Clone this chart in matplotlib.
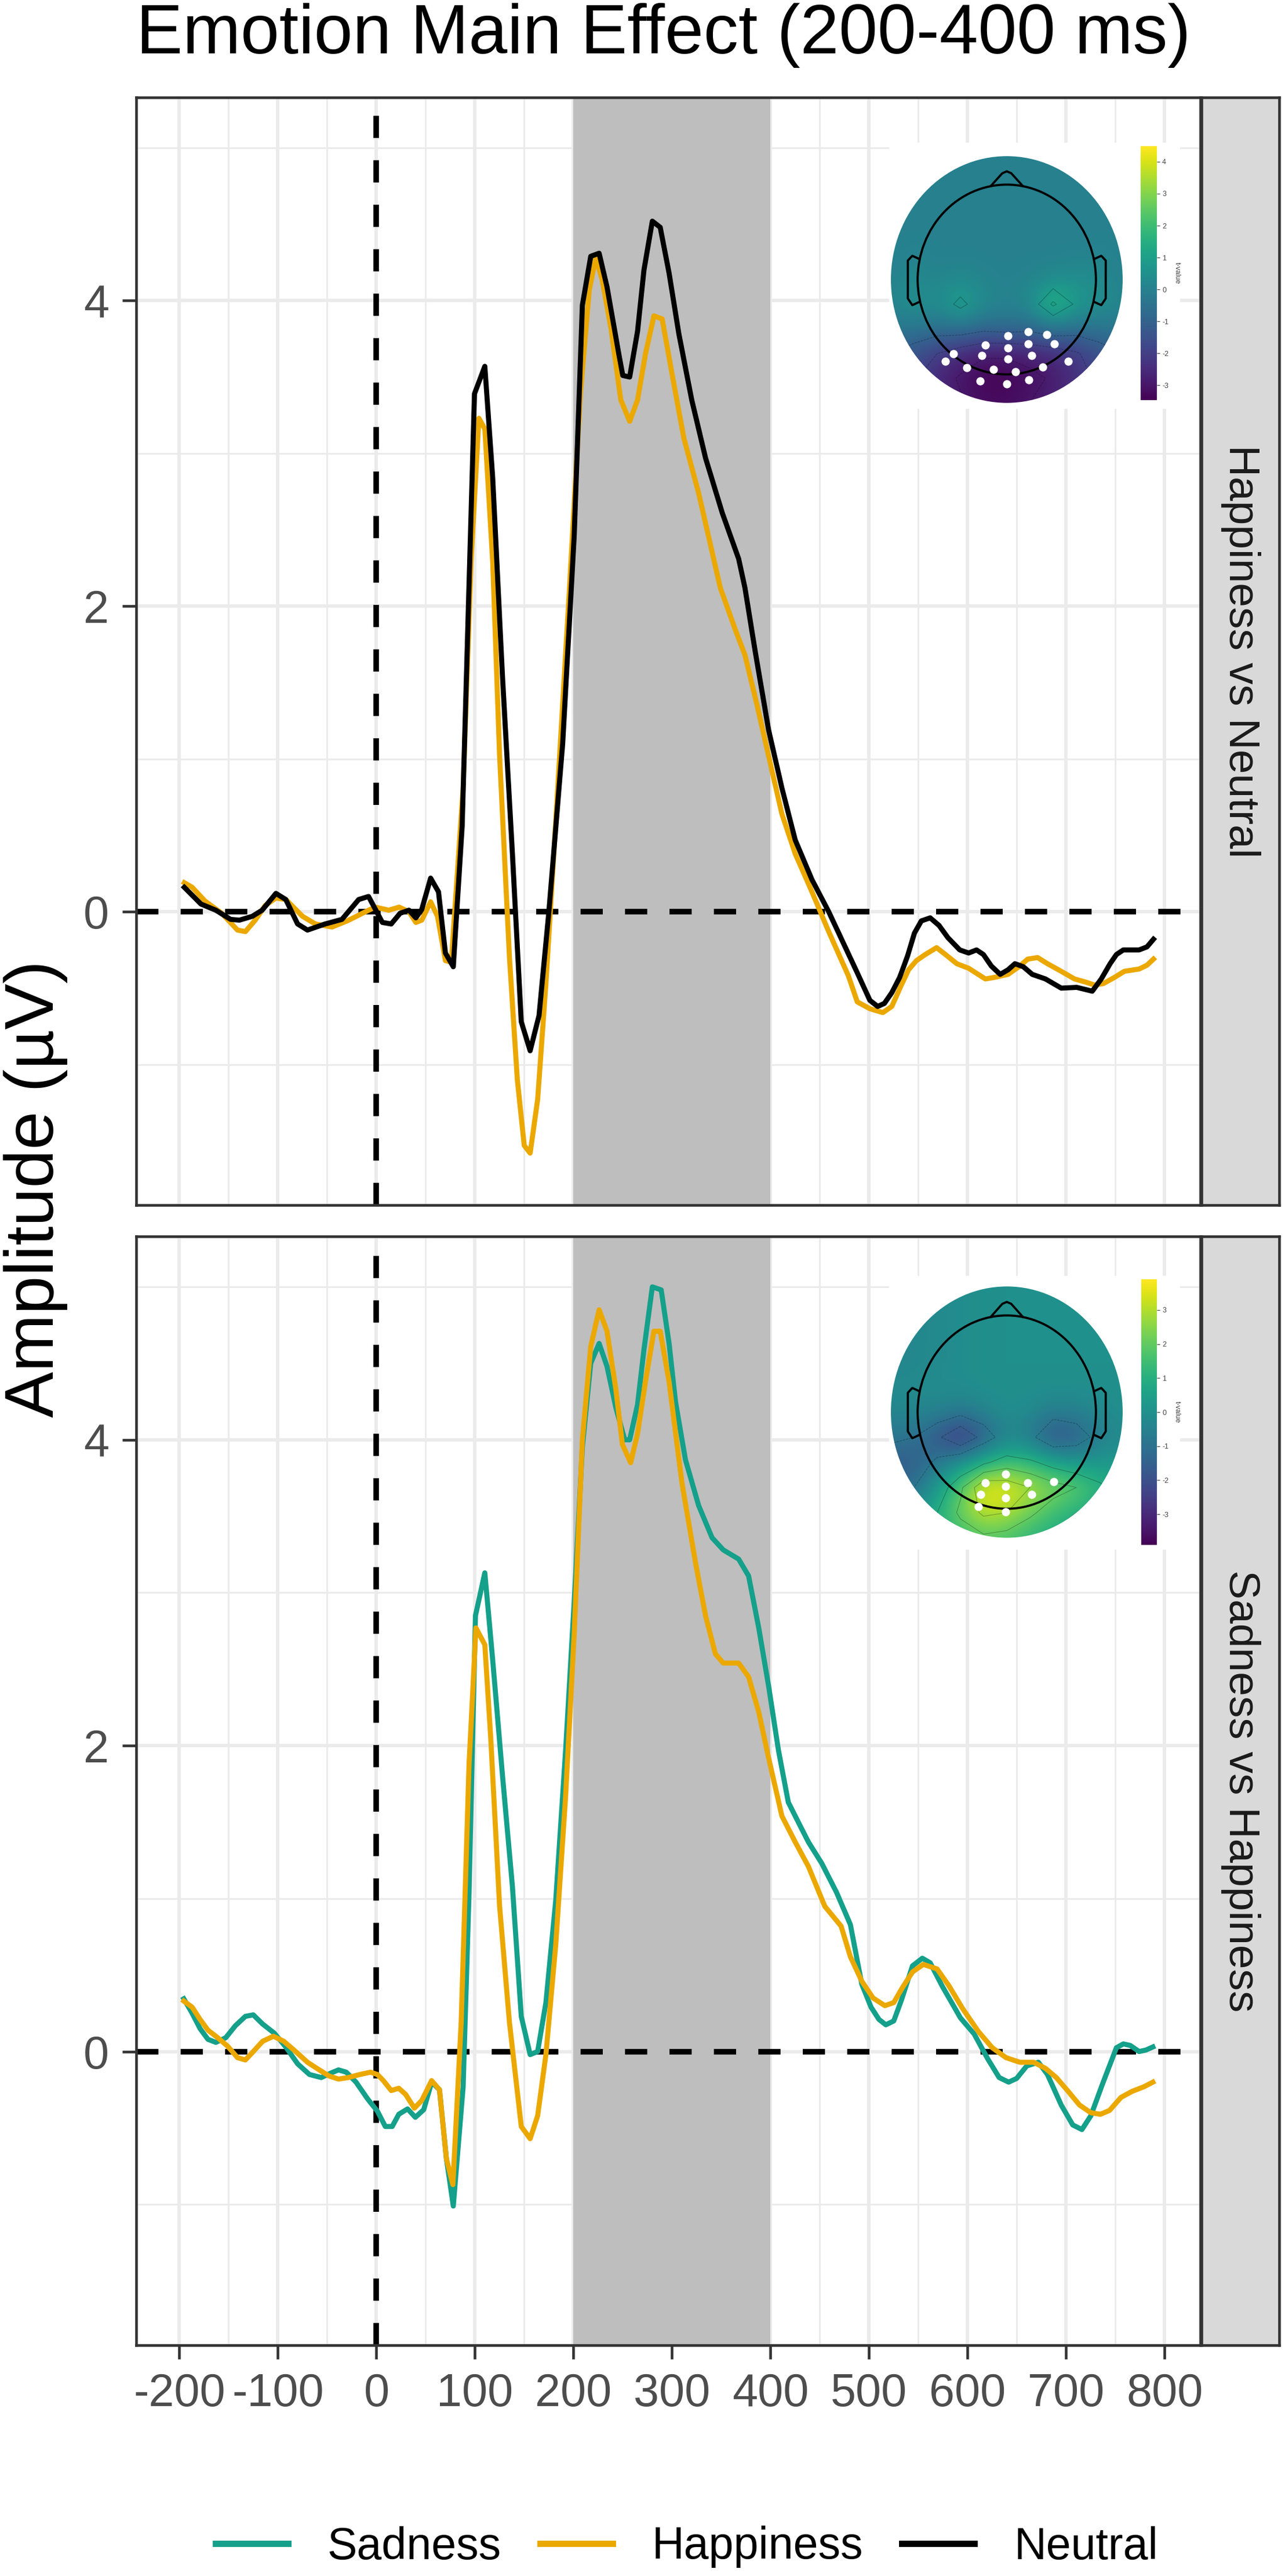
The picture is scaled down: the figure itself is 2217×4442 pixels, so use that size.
import numpy as np
import matplotlib
matplotlib.use('Agg')
import matplotlib.pyplot as plt
from matplotlib.lines import Line2D
from matplotlib.patches import Circle
from matplotlib.colors import Normalize
import matplotlib.cm as cm

plt.rcParams['font.family'] = ['Liberation Sans', 'DejaVu Sans']
plt.rcParams['axes.unicode_minus'] = False

W, H = 2217, 4442

# ---------------- data ----------------
title = "Emotion Main Effect (200-400 ms)"
ylabel = "Amplitude (\u00b5V)"
panel_names = ["Happiness vs Neutral", "Sadness vs Happiness"]
legend_names = ["Sadness", "Happiness", "Neutral"]
colors = {"Sadness": "#14A08A", "Happiness": "#EBA800", "Neutral": "#000000"}
xticks = [-200, -100, 0, 100, 200, 300, 400, 500, 600, 700, 800]
yticks = [0, 2, 4]
window = (200, 400)

# panel 1: Happiness vs Neutral
p1_neu_t = [-195, -178, -163, -148, -139, -126, -116, -102, -92, -80, -70, -52, -35, -18, -8, 6, 15, 24, 33, 40,
            46, 55, 63, 70, 78, 87, 99.5, 110, 118, 128, 138, 147, 156, 165, 175, 189, 200.7, 209, 217.5, 226,
            234, 246, 250, 257, 265, 271.5, 280, 288, 297, 307, 320, 334, 351, 367.6, 374, 384.5, 398, 411.5,
            425, 442, 459, 488, 500.8, 508.7, 515.5, 523, 531, 539, 546, 553, 562, 571, 580, 592, 601, 609, 616,
            624, 633, 641, 648, 656.5, 665.6, 679, 695, 710.7, 726.5, 735.6, 744.6, 751, 758, 774, 782, 788.6]
p1_neu_v = [0.16, 0.05, 0.01, -0.05, -0.055, -0.03, 0.01, 0.12, 0.08, -0.08, -0.12, -0.08, -0.05, 0.08, 0.10,
            -0.07, -0.08, -0.01, 0.01, -0.04, 0.015, 0.22, 0.13, -0.27, -0.36, 0.56, 3.39, 3.57, 2.84, 1.53, 0.38,
            -0.72, -0.91, -0.68, 0.0, 1.10, 2.46, 3.97, 4.29, 4.31, 4.09, 3.65, 3.51, 3.50, 3.80, 4.20, 4.52, 4.48,
            4.18, 3.78, 3.35, 2.97, 2.61, 2.31, 2.12, 1.70, 1.19, 0.81, 0.47, 0.21, 0.0, -0.40, -0.58, -0.62,
            -0.60, -0.53, -0.43, -0.29, -0.14, -0.06, -0.04, -0.09, -0.17, -0.25, -0.27, -0.25, -0.28, -0.355,
            -0.41, -0.38, -0.34, -0.36, -0.41, -0.44, -0.50, -0.495, -0.52, -0.44, -0.34, -0.28, -0.25, -0.25,
            -0.23, -0.18]
p1_hap_t = [-195, -187, -174, -157, -141, -133, -123, -113, -102, -92, -75, -62, -45, -28, -8, -1, 12.5, 23, 33,
            40, 46, 55, 62, 70, 76, 88, 96, 104, 110, 118, 125, 135, 143, 150, 156, 163.6, 172, 182, 195.6, 207,
            216, 222.6, 229, 238, 248, 257, 265, 273, 281.6, 290, 300, 312, 327, 349, 364, 374, 386, 398, 411.5,
            425, 442, 459, 479, 488, 500.8, 514, 523, 532, 540, 548, 557, 568.5, 577.5, 589, 601, 618, 627, 641,
            652, 661, 671, 681, 695, 708.5, 719.6, 728.8, 737.8, 749, 759, 774, 782, 788.6]
p1_hap_v = [0.19, 0.16, 0.07, -0.01, -0.12, -0.13, -0.055, 0.04, 0.09, 0.08, -0.03, -0.08, -0.10, -0.055, 0.01,
            0.03, 0.01, 0.03, 0.0, -0.07, -0.055, 0.065, -0.03, -0.32, -0.33, 0.81, 2.29, 3.23, 3.16, 2.29, 1.02,
            -0.30, -1.10, -1.53, -1.58, -1.23, -0.47, 0.59, 2.08, 3.39, 4.07, 4.28, 4.14, 3.82, 3.35, 3.21, 3.35,
            3.65, 3.90, 3.88, 3.52, 3.10, 2.74, 2.12, 1.85, 1.68, 1.36, 1.02, 0.64, 0.38, 0.13, -0.13, -0.42,
            -0.59, -0.635, -0.66, -0.62, -0.49, -0.38, -0.32, -0.28, -0.235, -0.28, -0.34, -0.37, -0.44, -0.43,
            -0.41, -0.36, -0.31, -0.30, -0.34, -0.39, -0.44, -0.46, -0.48, -0.47, -0.43, -0.39, -0.375, -0.35,
            -0.31]

# panel 2: Sadness vs Happiness
p2_sad_t = [-195.5, -187, -179, -171, -163, -153, -143, -133, -125, -115.5, -103.6, -92, -80, -68, -56, -46,
            -38.5, -30.6, -20.7, -8.9, 1, 9, 16, 22.7, 31.6, 39.5, 48, 56, 64, 71, 78, 88, 94, 100.5, 110, 118,
            128, 138, 147, 156, 163.6, 172, 182, 192, 200.7, 209, 217.5, 226, 234, 243, 252, 257, 265, 271.5,
            280, 289, 297, 303.5, 313.6, 327, 340.6, 352, 367.6, 377.7, 388, 398, 408, 418, 425, 438.4, 452,
            467, 481, 492.6, 502, 510, 517, 525, 533, 544, 554, 562, 574, 592.7, 606.6, 620.6, 632, 641.6,
            649.7, 660, 671.8, 681, 695, 706.7, 716, 725, 737, 751, 758, 765, 774, 781, 788]
p2_sad_v = [0.345, 0.25, 0.15, 0.08, 0.06, 0.09, 0.17, 0.23, 0.24, 0.18, 0.12, 0.03, -0.08, -0.15, -0.17, -0.14,
            -0.12, -0.135, -0.20, -0.31, -0.39, -0.49, -0.49, -0.41, -0.375, -0.43, -0.38, -0.20, -0.25, -0.70,
            -1.01, -0.23, 1.04, 2.85, 3.13, 2.56, 1.80, 1.08, 0.23, -0.02, 0.0, 0.32, 0.99, 1.97, 2.94, 3.95,
            4.50, 4.63, 4.48, 4.21, 4.00, 4.00, 4.23, 4.59, 5.00, 4.98, 4.63, 4.25, 3.87, 3.57, 3.36, 3.28, 3.22,
            3.11, 2.77, 2.39, 1.97, 1.63, 1.54, 1.37, 1.23, 1.04, 0.83, 0.44, 0.29, 0.21, 0.175, 0.20, 0.34,
            0.56, 0.61, 0.58, 0.43, 0.22, 0.115, -0.05, -0.17, -0.20, -0.176, -0.094, -0.07, -0.15, -0.35,
            -0.48, -0.51, -0.42, -0.21, 0.025, 0.05, 0.04, 0.0, 0.01, 0.03]
p2_hap_t = [-195.5, -187, -179, -171, -161, -151, -141, -133, -125, -115.5, -104.6, -94, -82, -70, -58, -48,
            -38.5, -28.6, -16.8, -6, 1, 7, 15, 22.7, 29.6, 38.5, 46, 56, 64, 71, 77.6, 86, 94, 101, 110, 116,
            125, 135, 147, 156, 163.6, 172, 182, 192, 200.7, 209, 217.5, 226, 234, 243, 249.6, 258, 265, 273,
            281.6, 288, 297, 310, 324, 334, 344, 352, 367.6, 377.7, 388, 398, 411.5, 425, 438.4, 455, 471.6,
            481, 492.6, 504, 516, 525, 534, 544, 555, 569, 581, 595, 611, 625, 639, 653, 667, 679, 690, 702,
            713.6, 725, 734.7, 744, 755.6, 767, 779, 788]
p2_hap_v = [0.33, 0.29, 0.21, 0.14, 0.09, 0.035, -0.04, -0.055, 0.0, 0.067, 0.10, 0.067, 0.0, -0.07, -0.12,
            -0.16, -0.18, -0.17, -0.15, -0.135, -0.15, -0.19, -0.255, -0.24, -0.28, -0.37, -0.32, -0.19, -0.25,
            -0.70, -0.87, 0.19, 1.88, 2.77, 2.66, 2.05, 0.95, 0.19, -0.49, -0.57, -0.42, -0.02, 0.70, 1.67,
            2.73, 4.00, 4.61, 4.85, 4.71, 4.33, 3.97, 3.85, 4.04, 4.38, 4.71, 4.71, 4.38, 3.72, 3.19, 2.85, 2.60,
            2.54, 2.54, 2.45, 2.22, 1.92, 1.54, 1.37, 1.21, 0.95, 0.82, 0.62, 0.46, 0.35, 0.30, 0.32, 0.42, 0.52,
            0.57, 0.54, 0.43, 0.28, 0.13, 0.025, -0.04, -0.07, -0.07, -0.11, -0.17, -0.26, -0.35, -0.40, -0.41,
            -0.385, -0.30, -0.26, -0.23, -0.20]

# topomap t-values on an 11x11 grid (rows: front -> back, cols: left -> right)
topo1_t = [
    [0, 0, 0, 0, 0, 0, 0, 0, 0, 0, 0],
    [0, 0, 0, 0, 0, 0, 0, 0, 0, 0, 0],
    [0, 0, 0, 0, 0, 0, 0, 0, 0, 0, 0],
    [0, 0, 0, 0, 0, 0, 0, 0, 0, 0, 0],
    [0, 0.1, 0, 0, 0, 0, 0, 0, 0, 0.1, 0],
    [0, 0.3, 0.1, 0.3, 0.1, 0, 0.1, 0.3, 0.5, 0.3, 0],
    [0.1, 0.6, 0.3, 1.3, 0.3, 0.1, 0.3, 2.2, 0.8, 0.5, 0.1],
    [-0.4, -0.3, -0.6, -0.5, -0.8, -0.7, -0.8, -0.4, -0.6, -0.4, -0.3],
    [-1.0, -1.5, -2.0, -2.5, -2.9, -2.9, -2.7, -2.5, -2.1, -1.5, -1.0],
    [-1.3, -1.9, -2.6, -3.1, -3.4, -3.4, -3.2, -2.9, -2.4, -1.8, -1.2],
    [-1.0, -1.7, -2.4, -2.9, -3.2, -3.2, -3.0, -2.7, -2.2, -1.6, -1.0],
]
topo2_t = [
    [-0.2, -0.3, -0.2, -0.1, 0, 0, 0, 0, 0, 0, 0],
    [-0.3, -0.3, -0.2, -0.1, 0, 0, 0, 0, 0, 0, 0],
    [-0.3, -0.3, -0.2, -0.1, 0, 0, 0, 0, 0, 0, 0],
    [-0.3, -0.3, -0.2, -0.1, 0, 0, 0, 0, 0, 0, 0],
    [-0.2, -0.2, -0.1, -0.1, 0, 0, 0, 0, 0, 0, 0],
    [-0.3, -0.3, -0.4, -0.7, -0.4, 0, -0.2, -0.6, -0.5, -0.2, 0],
    [-0.8, -1.0, -1.8, -3.0, -1.6, -0.4, -0.7, -2.0, -1.6, -0.6, -0.2],
    [-1.6, -1.6, -0.8, 0.0, 0.8, 1.5, 1.2, 0.6, 0.2, 0.2, 0.3],
    [-1.5, -1.0, 0.3, 1.8, 3.8, 3.6, 3.0, 2.4, 2.0, 1.2, 0.6],
    [-0.6, 0, 1.0, 2.2, 3.2, 3.0, 2.2, 1.5, 1.0, 0.6, 0.3],
    [0, 0.3, 0.8, 1.4, 1.8, 1.6, 1.2, 0.8, 0.5, 0.3, 0],
]
topo1_lim = (-3.47, 4.49)
topo2_lim = (-3.9, 3.9)
topo1_ticks = [-3, -2, -1, 0, 1, 2, 3, 4]
topo2_ticks = [-3, -2, -1, 0, 1, 2, 3]
# significant electrodes (head-radius units)
elec1_x = [0.01, 0.24, 0.45, -0.24, 0.01, 0.24, 0.53, -0.60, -0.28, 0.01, 0.28, 0.69, -0.69,
           -0.45, -0.15, 0.10, 0.40, -0.30, 0.0, 0.25]
elec1_y = [-0.59, -0.55, -0.58, -0.69, -0.72, -0.68, -0.68, -0.78, -0.80, -0.84, -0.80, -0.86, -0.86,
           -0.93, -0.95, -0.97, -0.92, -1.07, -1.10, -1.06]
elec2_x = [-0.01, -0.24, -0.01, 0.235, 0.525, -0.29, -0.01, 0.28, -0.32, -0.01]
elec2_y = [-0.64, -0.73, -0.77, -0.73, -0.72, -0.85, -0.89, -0.85, -0.98, -1.03]


def rect(x0, y0, x1, y1):
    return [x0 / W, 1 - y1 / H, (x1 - x0) / W, (y1 - y0) / H]


fig = plt.figure(figsize=(W / 300, H / 300), dpi=300)
fig.patch.set_facecolor('white')

panel_y = [(168, 2078), (2132, 4044)]
series = [
    [("Happiness", p1_hap_t, p1_hap_v), ("Neutral", p1_neu_t, p1_neu_v)],
    [("Sadness", p2_sad_t, p2_sad_v), ("Happiness", p2_hap_t, p2_hap_v)],
]

for k in range(2):
    y0, y1 = panel_y[k]
    ax = fig.add_axes(rect(235, y0, 2071, y1))
    ax.set_xlim(-243.8, 836.2)
    ax.set_ylim(-1.92, 5.33)
    ax.set_xticks(xticks)
    ax.set_xticks(np.arange(-150, 800, 100), minor=True)
    ax.set_yticks(yticks)
    ax.set_yticks([-1, 1, 3, 5], minor=True)
    ax.set_xticklabels([str(v) for v in xticks])
    ax.set_yticklabels([str(v) for v in yticks])
    ax.set_axisbelow(True)
    ax.grid(which='major', color='#EBEBEB', lw=1.4)
    ax.grid(which='minor', color='#EBEBEB', lw=0.7)
    for s in ax.spines.values():
        s.set_color('#333333')
        s.set_linewidth(1.1)
    ax.tick_params(which='major', length=5.8, width=1.1, color='#333333',
                   labelsize=19, labelcolor='#4D4D4D', pad=5.5)
    ax.tick_params(which='minor', length=0)
    if k == 0:
        ax.tick_params(axis='x', which='both', bottom=False, labelbottom=False)

    ax.axvspan(window[0], window[1], color='#BEBEBE', lw=0, zorder=1)
    ax.axhline(0, color='black', lw=2.3, dashes=(4.0, 4.0), zorder=2)
    ax.axvline(0, color='black', lw=2.3, dashes=(4.0, 4.0), zorder=2)
    for name, t, v in series[k]:
        ax.plot(t, v, color=colors[name], lw=2.1, zorder=3, solid_joinstyle='round')

    # facet strip
    sx = fig.add_axes(rect(2073, y0, 2207, y1))
    sx.set_facecolor('#D9D9D9')
    sx.set_xticks([])
    sx.set_yticks([])
    for s in sx.spines.values():
        s.set_color('#333333')
        s.set_linewidth(1.1)
    sx.text(0.5, 0.5, panel_names[k], rotation=-90, ha='center', va='center',
            fontsize=18, color='#1A1A1A', transform=sx.transAxes)


def draw_topo(box, disc, cbar, grid, lim, ticks, ex, ey):
    bg = fig.add_axes(rect(*box))
    bg.set_facecolor('white')
    bg.set_xticks([])
    bg.set_yticks([])
    for s in bg.spines.values():
        s.set_visible(False)

    ta = fig.add_axes(rect(*disc))
    ta.set_xlim(-1.32, 1.32)
    ta.set_ylim(-1.32, 1.32)
    ta.axis('off')
    g = np.array(grid)
    norm = Normalize(lim[0], lim[1])
    im = ta.imshow(g, extent=(-1.43, 1.43, -1.43, 1.43), origin='upper', cmap='viridis',
                   norm=norm, interpolation='bicubic', aspect='auto')
    clip = Circle((0, 0), 1.3, transform=ta.transData)
    im.set_clip_path(clip)
    gx, gy = np.meshgrid(np.linspace(-1.3, 1.3, 11), np.linspace(1.3, -1.3, 11))
    cs = ta.contour(gx, gy, g, levels=[-4, -3, -2, -1, 1, 2, 3, 4], colors='k',
                    linewidths=0.25, alpha=0.3)
    cs.set_clip_path(clip)

    ta.add_patch(Circle((0, 0), 1.0, fill=False, ec='black', lw=0.9))
    ta.plot([-0.18, -0.05, 0, 0.05, 0.18], [0.985, 1.12, 1.14, 1.12, 0.985], color='black', lw=0.9)
    ear_x = [0.99, 1.06, 1.11, 1.11, 1.06, 0.99]
    ear_y = [0.22, 0.25, 0.2, -0.2, -0.27, -0.24]
    ta.plot(ear_x, ear_y, color='black', lw=0.9)
    ta.plot([-v for v in ear_x], ear_y, color='black', lw=0.9)
    ta.plot(ex, ey, 'o', color='white', ms=3.4, mec='none')

    cax = fig.add_axes(rect(*cbar))
    cb = fig.colorbar(cm.ScalarMappable(norm=norm, cmap='viridis'), cax=cax)
    cb.outline.set_visible(False)
    cb.set_ticks(ticks)
    cax.tick_params(labelsize=3, length=1.2, width=0.3, pad=1, colors='#444444')
    cb.set_label('t-value', size=3, rotation=270, labelpad=5, color='#444444')


# top map: head centre at y=482 px, 164 px per head radius vertically
draw_topo((1534, 246, 2036, 705), (1534, 482 - 216, 1940, 482 + 216), (1968, 252, 1996, 690),
          topo1_t, topo1_lim, topo1_ticks, elec1_x, elec1_y)
draw_topo((1534, 2200, 2036, 2672), (1534, 2215, 1940, 2655), (1969, 2206, 1996, 2664),
          topo2_t, topo2_lim, topo2_ticks, elec2_x, elec2_y)

fig.text(235 / W, 1 - 92 / H, title, ha='left', va='baseline', fontsize=28.8, color='black')
fig.text(92 / W, 1 - 2050 / H, ylabel, rotation=90, rotation_mode='anchor',
         ha='center', va='baseline', fontsize=28.5, color='black')

handles = [Line2D([0], [0], color=colors[n], lw=2.6) for n in legend_names]
fig.legend(handles, legend_names, loc='center', bbox_to_anchor=(1185 / W, 1 - 4392 / H),
           ncol=3, frameon=False, fontsize=18.5, handlelength=1.62, handletextpad=0.88,
           columnspacing=0.87)

fig.savefig('out.png', dpi=300)
